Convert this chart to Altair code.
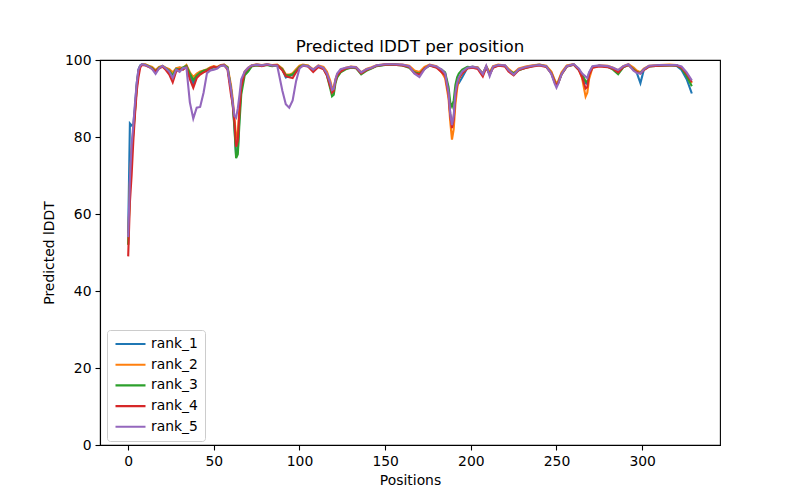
import altair as alt
import pandas as pd

positions = [
    0, 1, 2, 3, 4, 5, 6, 7, 8, 10,
    12, 14, 16, 18, 20, 22, 24, 26, 28, 30,
    32, 34, 36, 38, 40, 42, 44, 46, 48, 50,
    52, 54, 56, 58, 60, 61, 62, 63, 64, 65,
    66, 68, 70, 72, 75, 78, 81, 84, 87, 90,
    92, 94, 96, 98, 100, 102, 105, 108, 111, 114,
    116, 118, 119, 120, 121, 122, 124, 127, 130, 133,
    136, 139, 142, 145, 150, 155, 160, 164, 167, 170,
    173, 176, 180, 183, 185, 187, 188, 189, 190, 191,
    192, 193, 195, 198, 201, 204, 207, 209, 211, 213,
    216, 220, 222, 225, 228, 232, 236, 240, 244, 247,
    249, 250, 251, 253, 256, 260, 263, 265, 267, 268,
    269, 271, 275, 280, 283, 286, 289, 292, 295, 297,
    299, 301, 304, 310, 316, 320, 323, 326, 329,
]

rank_1 = [
    55, 83.5, 83.0, 83.2, 88, 94, 97.5, 98.6, 98.9, 98.8,
    98.3, 98.0, 96.8, 97.9, 98.3, 97.7, 96.8, 95.5, 97.6, 98.0,
    97.6, 98.4, 96.0, 93.8, 95.8, 96.5, 97.0, 97.4, 97.8, 98.2,
    98.0, 98.6, 98.8, 98.0, 92.5, 89.0, 83.0, 75.0, 76.5, 86.0,
    93.0, 96.5, 97.6, 98.5, 98.8, 98.6, 98.8, 98.5, 98.7, 97.5,
    95.5, 95.8, 96.2, 97.3, 98.3, 98.7, 98.5, 97.2, 98.4, 97.9,
    96.5, 93.5, 91.8, 92.5, 94.5, 96.0, 97.2, 97.8, 98.2, 98.0,
    96.6, 97.5, 97.9, 98.5, 98.8, 98.9, 98.7, 98.3, 97.0, 96.6,
    98.0, 98.7, 98.2, 97.3, 96.5, 92.0, 86.0, 82.8, 85.0, 91.0,
    93.5, 94.0, 95.5, 98.0, 98.3, 98.0, 96.5, 98.3, 96.5, 98.2,
    98.7, 98.5, 97.5, 96.3, 97.6, 98.1, 98.5, 98.8, 98.4, 96.8,
    94.5, 93.5, 94.2, 96.5, 98.4, 98.9, 97.6, 96.0, 94.0, 93.8,
    96.5, 98.2, 98.5, 98.3, 97.8, 97.0, 98.3, 98.8, 97.8, 96.5,
    94.0, 97.5, 98.4, 98.6, 98.7, 98.5, 97.4, 95.0, 91.3,
]

rank_2 = [
    52, 68, 77, 82, 87, 93, 97, 98.4, 98.8, 98.9,
    98.5, 98.2, 97.4, 98.2, 98.5, 98.0, 97.6, 96.8, 97.9, 98.1,
    97.9, 98.7, 96.8, 95.6, 96.5, 97.0, 97.3, 97.6, 98.1, 98.4,
    98.2, 98.7, 98.8, 98.2, 93.5, 90.0, 85.0, 80.0, 81.0, 88.0,
    93.5, 97.0, 98.0, 98.6, 98.9, 98.7, 98.9, 98.7, 98.8, 97.8,
    96.3, 96.2, 96.6, 97.6, 98.5, 98.8, 98.6, 97.6, 98.6, 98.2,
    97.0, 94.5, 92.8, 93.0, 95.0, 96.3, 97.4, 98.0, 98.3, 98.2,
    96.8, 97.7, 98.1, 98.6, 98.9, 98.9, 98.8, 98.5, 97.3, 96.9,
    98.2, 98.8, 98.4, 96.8, 95.3, 90.0, 84.0, 79.3, 82.0, 88.5,
    92.5, 95.0, 96.5, 98.0, 98.2, 98.1, 96.4, 98.4, 96.8, 98.4,
    98.8, 98.6, 97.7, 96.6, 97.8, 98.3, 98.6, 98.8, 98.5, 97.0,
    94.8, 93.8, 94.5, 96.8, 98.6, 98.9, 97.6, 95.2, 90.5, 91.5,
    95.0, 98.0, 98.6, 98.5, 98.0, 97.3, 98.4, 98.9, 98.0, 97.2,
    96.8, 97.8, 98.5, 98.7, 98.8, 98.7, 98.0, 96.2, 94.0,
]

rank_3 = [
    52, 67, 76, 81, 87, 93, 97, 98.4, 98.8, 98.7,
    98.4, 97.9, 97.1, 98.0, 98.4, 97.8, 97.2, 96.0, 97.7, 97.4,
    98.1, 98.5, 96.5, 94.8, 96.0, 96.7, 97.2, 97.5, 97.9, 98.1,
    98.0, 98.5, 98.7, 98.1, 92.5, 88.5, 82.5, 74.5, 75.5, 84.0,
    91.0, 96.0, 97.0, 98.3, 98.6, 98.5, 98.7, 98.4, 98.6, 97.6,
    96.0, 96.0, 96.3, 97.2, 98.2, 98.6, 98.4, 97.3, 98.3, 97.8,
    96.0, 92.5, 90.6, 91.0, 94.0, 95.5, 96.8, 97.6, 98.0, 97.9,
    96.3, 97.2, 97.8, 98.4, 98.7, 98.8, 98.6, 98.0, 96.8, 96.4,
    97.7, 98.6, 98.1, 97.5, 96.8, 93.0, 89.0, 87.9, 89.5, 93.5,
    95.5, 96.5, 97.5, 98.2, 98.1, 97.9, 96.2, 98.2, 96.3, 98.1,
    98.6, 98.4, 97.3, 96.6, 97.3, 98.0, 98.4, 98.7, 98.3, 96.5,
    94.3, 93.4, 94.0, 96.3, 98.3, 98.8, 97.5, 96.2, 94.5, 94.2,
    96.5, 98.2, 98.5, 98.2, 97.5, 96.3, 98.1, 98.7, 97.6, 96.8,
    96.6, 97.5, 98.3, 98.5, 98.6, 98.6, 97.8, 95.8, 93.2,
]

rank_4 = [
    49, 63, 70, 79, 86, 92, 95.5, 98, 98.7, 98.6,
    98.2, 97.7, 97.0, 97.8, 98.3, 97.4, 96.2, 94.2, 97.0, 97.6,
    97.5, 98.2, 95.0, 92.8, 95.3, 96.2, 96.8, 97.2, 97.9, 98.3,
    98.0, 98.6, 98.7, 97.5, 91.0, 88.5, 84.0, 77.5, 79.0, 87.0,
    93.0, 96.8, 97.8, 98.5, 98.7, 98.4, 98.8, 98.6, 98.7, 97.3,
    95.8, 95.5, 95.3, 96.8, 98.0, 98.5, 98.3, 96.9, 98.2, 97.6,
    96.0, 93.0, 91.5, 92.0, 94.5, 96.0, 97.0, 97.8, 98.1, 98.0,
    96.5, 97.4, 97.9, 98.5, 98.8, 98.8, 98.6, 98.2, 96.6, 96.2,
    97.8, 98.6, 98.0, 96.8, 96.0, 91.0, 85.5, 82.3, 84.5, 90.5,
    93.5, 95.3, 96.5, 97.8, 98.0, 97.7, 95.7, 98.0, 96.2, 98.0,
    98.5, 98.3, 97.0, 96.0, 97.4, 97.9, 98.3, 98.6, 98.2, 96.5,
    94.2, 93.3, 94.0, 96.3, 98.3, 98.8, 97.4, 95.5, 92.6, 93.0,
    96.0, 98.0, 98.3, 98.1, 97.7, 96.8, 98.2, 98.7, 97.4, 96.8,
    96.5, 97.4, 98.3, 98.5, 98.6, 98.6, 98.0, 96.4, 94.3,
]

rank_5 = [
    54, 69, 78, 83, 89, 94, 97.5, 98.5, 98.9, 98.7,
    98.3, 97.6, 96.4, 97.8, 98.5, 97.8, 97.0, 95.3, 97.5, 96.9,
    97.9, 98.0, 89.0, 84.8, 87.6, 87.8, 91.5, 96.6, 97.3, 97.5,
    97.8, 98.5, 98.6, 97.8, 92.5, 89.0, 85.5, 85.0, 87.5, 91.0,
    95.0, 97.0, 98.0, 98.6, 98.8, 98.6, 98.9, 98.6, 98.5, 92.0,
    88.5, 87.6, 89.5, 94.5, 97.8, 98.6, 98.4, 97.5, 98.5, 97.9,
    96.5, 94.0, 92.2, 92.5, 95.0, 96.5, 97.6, 98.0, 98.2, 98.1,
    96.8, 97.6, 98.0, 98.6, 98.9, 98.9, 98.8, 98.4, 96.5, 95.6,
    97.6, 98.7, 98.3, 97.5, 96.5, 91.5, 86.0, 83.1, 85.5, 91.5,
    94.0, 95.5, 97.0, 98.0, 98.2, 98.0, 96.3, 98.5, 95.8, 98.3,
    98.7, 98.6, 97.4, 96.2, 97.6, 98.2, 98.5, 98.7, 98.4, 96.4,
    93.8, 92.8, 93.8, 96.4, 98.4, 98.9, 97.8, 96.5, 95.7, 95.3,
    96.8, 98.4, 98.6, 98.4, 98.0, 97.4, 98.4, 98.9, 97.2, 96.6,
    96.5, 97.6, 98.5, 98.7, 98.7, 98.7, 98.3, 96.8, 94.7,
]

series_names = ["rank_1", "rank_2", "rank_3", "rank_4", "rank_5"]
series_values = [rank_1, rank_2, rank_3, rank_4, rank_5]
colors = ["#1f77b4", "#ff7f0e", "#2ca02c", "#d62728", "#9467bd"]
x_ticks = [0, 50, 100, 150, 200, 250, 300]
y_ticks = [0, 20, 40, 60, 80, 100]

rows = []
for name, vals in zip(series_names, series_values):
    for p, v in zip(positions, vals):
        rows.append({"Positions": p, "lDDT": v, "model": name})
df = pd.DataFrame(rows)

FONT = "DejaVu Sans"

chart = (
    alt.Chart(df)
    .mark_line(strokeWidth=2.1, clip=True)
    .encode(
        x=alt.X(
            "Positions:Q",
            scale=alt.Scale(domain=[-16.45, 345.45], nice=False, zero=False),
            axis=alt.Axis(values=x_ticks, title="Positions", format="d"),
        ),
        y=alt.Y(
            "lDDT:Q",
            scale=alt.Scale(domain=[0, 100], nice=False),
            axis=alt.Axis(values=y_ticks, title="Predicted lDDT", format="d"),
        ),
        color=alt.Color(
            "model:N",
            scale=alt.Scale(domain=series_names, range=colors),
            legend=alt.Legend(
                title=None,
                orient="none",
                legendX=7,
                legendY=270,
                symbolType="stroke",
                symbolSize=900,
                symbolStrokeWidth=2.1,
                labelFontSize=13.9,
                labelFont=FONT,
                labelColor="black",
                clipHeight=14,
                rowPadding=6.7,
                labelOffset=4,
                padding=7,
                fillColor="rgba(255,255,255,0.8)",
                strokeColor="#cccccc",
                cornerRadius=3,
            ),
        ),
        order=alt.Order("Positions:Q"),
    )
    .properties(
        width=620,
        height=385,
        title=alt.TitleParams(
            "Predicted lDDT per position",
            font=FONT,
            fontSize=16.7,
            fontWeight="normal",
            color="black",
            anchor="middle",
            offset=-3,
        ),
        autosize=alt.AutoSizeParams(type="none"),
        padding={"left": 92, "top": 52, "right": 72, "bottom": 47},
    )
    .configure_view(stroke="black", strokeWidth=1.1)
    .configure_axis(
        grid=False,
        domainColor="black",
        domainWidth=1.1,
        tickColor="black",
        tickWidth=1.1,
        tickSize=5,
        labelPadding=4,
        labelFont=FONT,
        labelFontSize=13.9,
        labelColor="black",
        titleFont=FONT,
        titleFontSize=13.9,
        titleFontWeight="normal",
        titleColor="black",
    )
    .configure_axisX(titlePadding=6)
    .configure_axisY(titlePadding=8)
)

chart.save("out.html", embed_options={"renderer": "svg", "actions": False})
